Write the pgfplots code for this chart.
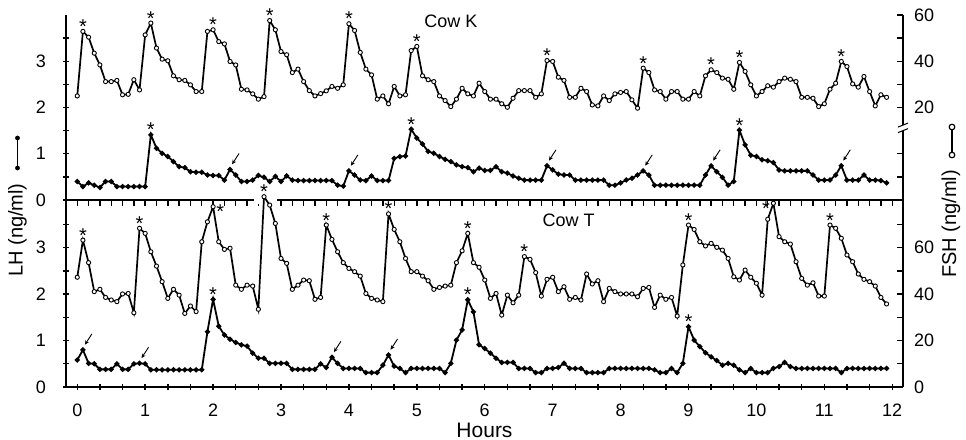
\documentclass[border=0pt]{standalone}
\usepackage{fontspec}
\setmainfont{Liberation Sans}
\usepackage{pgfplots}
\pgfplotsset{compat=1.18}
\usetikzlibrary{arrows.meta}
\newcommand{\str}[2]{\node[font=\fontsize{10}{10}\selectfont, inner sep=0pt, anchor=base, yshift=-1pt] at (axis cs:#1,#2) {*};}
\newcommand{\arr}[2]{\draw[-{Stealth[length=2.2pt,width=2pt]}, line width=0.45pt] ([xshift=4.5pt,yshift=8pt]axis cs:#1,#2) -- ([xshift=1pt,yshift=2.6pt]axis cs:#1,#2);}
\begin{document}
\begin{tikzpicture}
\useasboundingbox (-33pt,-26.5pt) rectangle (450pt,193.5pt);
\pgfplotsset{
  base/.style={scale only axis, width=418.5pt, xmin=-1.99, xmax=145.9,
    axis line style={-, line width=0.9pt},
    tick style={black, line width=0.7pt},
    major tick length=3pt, minor tick length=3pt, tick align=inside,
    ticklabel style={font=\fontsize{9}{10}\selectfont},
    /pgf/number format/assume math mode=true,
    clip=false},
  noarrow/.style={every outer x axis line/.append style={-}, every outer y axis line/.append style={-},
    every inner x axis line/.append style={-}, every inner y axis line/.append style={-},
    x axis line style={-}, y axis line style={-}},
  fsh/.style={black, line width=0.85pt, mark=*, mark size=1.05pt, mark options={fill=white, line width=0.45pt}},
  lh/.style={black, line width=0.9pt, mark=*, mark size=0.8pt},
}
% ---------------- TOP PANEL: Cow K ----------------
\begin{axis}[base, at={(0,93.5pt)}, anchor=south west, height=92.5pt,
  ymin=0, ymax=4.0, axis x line=bottom, axis y line=left, xtick=\empty,
  ytick={0,1,2,3}, minor ytick={0.5,1.5,2.5,3.5}, yticklabel style={xshift=-5pt}, noarrow]
\addplot[lh] coordinates {
(0,0.40)(1,0.29)(2,0.37)(3,0.32)(4,0.27)(5,0.40)(6,0.40)(7,0.29)(8,0.29)(9,0.29)
(10,0.29)(11,0.29)(12,0.29)(13,1.41)(14,1.12)(15,1.01)(16,0.94)(17,0.83)(18,0.72)(19,0.70)
(20,0.61)(21,0.60)(22,0.60)(23,0.54)(24,0.53)(25,0.53)(26,0.43)(27,0.66)(28,0.54)(29,0.40)
(30,0.40)(31,0.43)(32,0.53)(33,0.49)(34,0.40)(35,0.51)(36,0.40)(37,0.52)(38,0.43)(39,0.42)
(40,0.42)(41,0.42)(42,0.42)(43,0.42)(44,0.42)(45,0.42)(46,0.32)(47,0.30)(48,0.63)(49,0.54)
(50,0.43)(51,0.42)(52,0.52)(53,0.42)(54,0.42)(55,0.42)(56,0.90)(57,0.94)(58,0.95)(59,1.53)
(60,1.34)(61,1.21)(62,1.05)(63,1.01)(64,0.94)(65,0.88)(66,0.83)(67,0.76)(68,0.72)(69,0.70)
(70,0.61)(71,0.69)(72,0.64)(73,0.64)(74,0.72)(75,0.61)(76,0.58)(77,0.52)(78,0.47)(79,0.43)
(80,0.43)(81,0.43)(82,0.43)(83,0.74)(84,0.65)(85,0.56)(86,0.54)(87,0.54)(88,0.43)(89,0.43)
(90,0.43)(91,0.43)(92,0.43)(93,0.43)(94,0.32)(95,0.32)(96,0.37)(97,0.43)(98,0.47)(99,0.54)
(100,0.63)(101,0.54)(102,0.32)(103,0.32)(104,0.32)(105,0.32)(106,0.32)(107,0.32)(108,0.32)(109,0.32)
(110,0.32)(111,0.54)(112,0.74)(113,0.61)(114,0.49)(115,0.32)(116,0.40)(117,1.51)(118,1.19)(119,0.97)
(120,0.94)(121,0.87)(122,0.85)(123,0.81)(124,0.65)(125,0.63)(126,0.63)(127,0.63)(128,0.63)(129,0.63)
(130,0.54)(131,0.43)(132,0.43)(133,0.43)(134,0.54)(135,0.74)(136,0.43)(137,0.43)(138,0.43)(139,0.54)
(140,0.43)(141,0.43)(142,0.42)(143,0.37)};
\str{13}{1.41}\str{59}{1.53}\str{117}{1.51}
\arr{27}{0.66}\arr{48}{0.63}\arr{83}{0.74}\arr{100}{0.63}\arr{112}{0.74}\arr{135}{0.74}
\end{axis}
\begin{axis}[base, at={(0,93.5pt)}, anchor=south west, height=92.5pt,
  ymin=-20, ymax=60, axis x line=none, axis y line*=right,
  ytick={20,40,60}, minor ytick={-10,0,30,50}, yticklabel style={xshift=2pt}, noarrow]
\addplot[fsh] coordinates {
(0,25.0)(1,52.9)(2,50.4)(3,43.5)(4,38.4)(5,31.2)(6,31.2)(7,31.7)(8,25.5)(9,25.7)
(10,32.0)(11,27.6)(12,51.4)(13,56.5)(14,45.7)(15,40.9)(16,40.2)(17,33.7)(18,32.0)(19,31.7)
(20,29.8)(21,26.9)(22,26.9)(23,52.9)(24,53.6)(25,48.5)(26,47.5)(27,39.9)(28,38.4)(29,27.9)
(30,27.6)(31,25.9)(32,23.6)(33,24.7)(34,57.6)(35,53.6)(36,44.2)(37,42.8)(38,35.1)(39,36.6)
(40,31.2)(41,27.3)(42,25.0)(43,26.0)(44,27.2)(45,29.1)(46,28.3)(47,29.8)(48,56.2)(49,53.3)
(50,43.8)(51,36.6)(52,34.1)(53,23.6)(54,25.0)(55,21.6)(56,29.1)(57,25.0)(58,25.5)(59,44.6)
(60,46.4)(61,33.7)(62,32.0)(63,31.2)(64,25.0)(65,23.0)(66,20.4)(67,23.6)(68,28.3)(69,25.9)
(70,25.0)(71,30.5)(72,26.9)(73,23.6)(74,23.6)(75,21.6)(76,20.1)(77,24.0)(78,27.3)(79,27.3)
(80,27.3)(81,24.4)(82,25.9)(83,40.3)(84,39.9)(85,33.1)(86,31.7)(87,24.4)(88,24.4)(89,28.3)
(90,26.9)(91,21.1)(92,20.7)(93,25.0)(94,23.0)(95,25.9)(96,26.5)(97,26.9)(98,23.3)(99,19.7)
(100,37.0)(101,35.1)(102,27.6)(103,26.9)(104,23.6)(105,26.9)(106,26.9)(107,23.6)(108,23.6)(109,26.9)
(110,25.0)(111,33.7)(112,36.3)(113,35.1)(114,32.7)(115,32.2)(116,27.9)(117,39.5)(118,35.6)(119,29.8)
(120,25.0)(121,26.9)(122,29.4)(123,28.8)(124,31.2)(125,32.7)(126,32.2)(127,31.2)(128,24.4)(129,24.4)
(130,24.0)(131,20.4)(132,21.6)(133,27.9)(134,30.5)(135,39.9)(136,37.7)(137,30.2)(138,28.8)(139,33.4)
(140,26.9)(141,20.7)(142,25.5)(143,24.4)};
\str{1}{52.9}\str{13}{56.5}\str{24}{53.6}\str{34}{57.6}\str{48}{56.2}\str{60}{46.4}
\str{83}{40.3}\str{100}{37.0}\str{112}{36.3}\str{117}{39.5}\str{135}{39.9}
\fill[white] ([xshift=-3pt]axis cs:145.9,10.0) rectangle ([xshift=3pt]axis cs:145.9,12.4);
\draw[line width=0.5pt] ([xshift=-2.5pt,yshift=-1pt]axis cs:145.9,10.0) -- ([xshift=2.5pt,yshift=1pt]axis cs:145.9,10.0);
\draw[line width=0.5pt] ([xshift=-2.5pt,yshift=-1pt]axis cs:145.9,12.4) -- ([xshift=2.5pt,yshift=1pt]axis cs:145.9,12.4);
\node[font=\fontsize{9}{10}\selectfont] at (axis cs:66,57.3) {Cow K};
\end{axis}
% ---------------- BOTTOM PANEL: Cow T ----------------
\begin{axis}[base, at={(0,0)}, anchor=south west, height=93.5pt,
  ymin=0, ymax=4.03, axis x line=bottom, axis y line=left,
  xtick={0,12,...,144}, xticklabels={0,1,2,3,4,5,6,7,8,9,10,11,12}, minor x tick num=2,
  ytick={0,1,2,3}, minor ytick={0.5,1.5,2.5,3.5},
  xticklabel style={yshift=-3.5pt}, yticklabel style={xshift=-5pt},
  xlabel={Hours}, xlabel style={font=\fontsize{10.5}{12}\selectfont, at={(axis description cs:0.5,0)}, anchor=center, yshift=-21.5pt}, noarrow]
\addplot[lh] coordinates {
(0,0.58)(1,0.80)(2,0.51)(3,0.50)(4,0.38)(5,0.38)(6,0.38)(7,0.50)(8,0.38)(9,0.38)
(10,0.50)(11,0.51)(12,0.50)(13,0.37)(14,0.37)(15,0.37)(16,0.37)(17,0.37)(18,0.37)(19,0.37)
(20,0.37)(21,0.37)(22,0.37)(23,1.19)(24,1.89)(25,1.31)(26,1.12)(27,1.03)(28,0.96)(29,0.91)
(30,0.88)(31,0.73)(32,0.62)(33,0.62)(34,0.51)(35,0.51)(36,0.51)(37,0.51)(38,0.38)(39,0.38)
(40,0.38)(41,0.38)(42,0.38)(43,0.50)(44,0.42)(45,0.64)(46,0.51)(47,0.40)(48,0.40)(49,0.40)
(50,0.40)(51,0.31)(52,0.31)(53,0.31)(54,0.47)(55,0.69)(56,0.45)(57,0.40)(58,0.31)(59,0.40)
(60,0.40)(61,0.40)(62,0.40)(63,0.40)(64,0.40)(65,0.31)(66,0.51)(67,1.01)(68,1.23)(69,1.88)
(70,1.62)(71,0.91)(72,0.83)(73,0.73)(74,0.62)(75,0.53)(76,0.53)(77,0.53)(78,0.40)(79,0.40)
(80,0.40)(81,0.31)(82,0.31)(83,0.40)(84,0.40)(85,0.42)(86,0.51)(87,0.40)(88,0.40)(89,0.40)
(90,0.31)(91,0.31)(92,0.31)(93,0.31)(94,0.40)(95,0.40)(96,0.40)(97,0.40)(98,0.40)(99,0.40)
(100,0.40)(101,0.40)(102,0.37)(103,0.31)(104,0.31)(105,0.40)(106,0.31)(107,0.51)(108,1.30)(109,1.01)
(110,0.87)(111,0.74)(112,0.65)(113,0.57)(114,0.47)(115,0.51)(116,0.47)(117,0.37)(118,0.31)(119,0.40)
(120,0.31)(121,0.31)(122,0.31)(123,0.40)(124,0.44)(125,0.53)(126,0.44)(127,0.40)(128,0.40)(129,0.40)
(130,0.40)(131,0.40)(132,0.40)(133,0.40)(134,0.40)(135,0.31)(136,0.40)(137,0.40)(138,0.40)(139,0.40)
(140,0.40)(141,0.40)(142,0.40)(143,0.40)};
\str{24}{1.89}\str{69}{1.88}\str{108}{1.30}
\arr{1}{0.80}\arr{11}{0.51}\arr{45}{0.64}\arr{55}{0.69}
\end{axis}
\begin{axis}[base, at={(0,0)}, anchor=south west, height=93.5pt,
  ymin=0, ymax=80.6, axis x line*=top, axis y line*=right,
  xtick={0,12,...,144}, xticklabels={}, minor x tick num=5,
  ytick={0,20,40,60}, minor ytick={10,30,50,70}, yticklabel style={xshift=2pt}, noarrow]
\fill[white] (axis cs:31.2,79) rectangle (axis cs:35.3,82.6);
\addplot[fsh] coordinates {
(0,47.3)(1,63.3)(2,53.6)(3,41.1)(4,42.1)(5,38.6)(6,37.5)(7,36.8)(8,40.1)(9,40.3)
(10,32.0)(11,68.4)(12,66.2)(13,58.3)(14,52.1)(15,45.4)(16,38.2)(17,42.1)(18,39.6)(19,31.7)
(20,34.9)(21,32.5)(22,62.6)(23,71.2)(24,77.7)(25,62.6)(26,59.3)(27,59.8)(28,43.9)(29,42.1)
(30,43.9)(31,43.5)(32,33.5)(33,82.0)(34,78.4)(35,70.5)(36,55.4)(37,53.3)(38,42.1)(39,43.9)
(40,46.1)(41,45.8)(42,37.8)(43,38.6)(44,69.8)(45,63.6)(46,58.3)(47,53.6)(48,51.1)(49,49.7)
(50,47.8)(51,40.3)(52,38.2)(53,37.5)(54,36.8)(55,74.6)(56,67.9)(57,62.6)(58,55.4)(59,49.7)
(60,49.7)(61,47.8)(62,45.8)(63,42.1)(64,42.9)(65,43.5)(66,43.9)(67,53.6)(68,58.7)(69,66.2)
(70,53.6)(71,51.6)(72,46.1)(73,38.2)(74,40.3)(75,31.0)(76,39.6)(77,36.3)(78,39.6)(79,56.2)
(80,55.0)(81,49.3)(82,39.2)(83,46.4)(84,47.3)(85,41.1)(86,43.2)(87,37.8)(88,38.6)(89,37.5)
(90,48.7)(91,44.4)(92,45.8)(93,36.8)(94,42.5)(95,41.1)(96,40.1)(97,40.1)(98,40.1)(99,38.9)
(100,42.5)(101,42.9)(102,34.3)(103,39.6)(104,37.8)(105,38.6)(106,30.6)(107,52.6)(108,69.8)(109,67.9)
(110,62.6)(111,60.8)(112,61.9)(113,60.2)(114,59.0)(115,55.4)(116,47.5)(117,46.1)(118,50.4)(119,47.3)
(120,44.7)(121,39.6)(122,72.3)(123,79.2)(124,64.8)(125,62.6)(126,61.6)(127,54.0)(128,46.8)(129,43.9)
(130,44.9)(131,39.2)(132,39.2)(133,69.8)(134,68.4)(135,64.1)(136,56.9)(137,54.0)(138,48.7)(139,46.4)
(140,45.4)(141,43.5)(142,38.6)(143,35.8)};
\str{1}{63.3}\str{11}{68.4}\str{33}{82.0}\str{44}{69.8}\str{55}{74.6}
\str{69}{66.2}\str{79}{56.2}\str{108}{69.8}\str{133}{69.8}
\node[font=\fontsize{10}{10}\selectfont, inner sep=0pt, anchor=base west, xshift=1.5pt, yshift=-5.9pt] at (axis cs:24,77.7) {*};
\node[font=\fontsize{10}{10}\selectfont, inner sep=0pt, anchor=base east, xshift=-1.5pt, yshift=-5.9pt] at (axis cs:123,79.2) {*};
\node[font=\fontsize{9}{10}\selectfont] at (axis cs:86.8,71.8) {Cow T};
\end{axis}
% ---------------- axis titles ----------------
\node[rotate=90, font=\fontsize{10}{12}\selectfont] at (-24.25pt,78.5pt) {LH (ng/ml)};
\draw[line width=0.9pt] (-24.25pt,109.5pt) -- (-24.25pt,124.5pt);
\fill (-24.25pt,109.5pt) circle (1.2pt);
\fill (-24.25pt,124.5pt) circle (1.2pt);
\node[rotate=90, font=\fontsize{10}{12}\selectfont] at (442.5pt,81.5pt) {FSH (ng/ml)};
\draw[line width=0.8pt] (443pt,116pt) -- (443pt,130pt);
\draw[line width=0.6pt, fill=white] (443pt,116pt) circle (1.4pt);
\draw[line width=0.6pt, fill=white] (443pt,130pt) circle (1.4pt);
\end{tikzpicture}
\end{document}
